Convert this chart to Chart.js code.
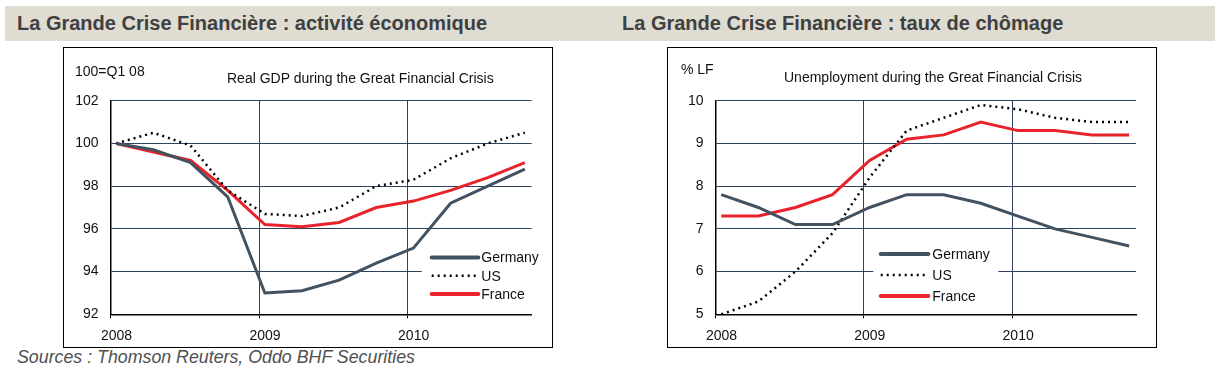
<!DOCTYPE html>
<html>
<head>
<meta charset="utf-8">
<script src="https://cdn.jsdelivr.net/npm/chart.js@4.4.1/dist/chart.umd.min.js"></script>
<style>
  body { margin: 0; width: 1221px; height: 369px; background: #fff; position: relative; overflow: hidden;
         font-family: "Liberation Sans", Arial, sans-serif; }
  .bar { position: absolute; left: 5px; top: 6px; width: 1210px; height: 35px; background: #dfdcd2; }
  .head { position: absolute; top: 6px; height: 35px; line-height: 35px; font-size: 20px; font-weight: bold; color: #404040; white-space: nowrap; }
  .box { position: absolute; top: 47px; width: 490px; height: 301px; border: 1.5px solid #000; box-sizing: border-box; }
  .wrap { position: absolute; top: 48px; width: 487px; height: 299px; }
  .note { position: absolute; font-size: 14px; line-height: 16px; color: #111; white-space: nowrap; }
  .src { position: absolute; left: 17px; top: 347px; font-size: 17.8px; line-height: 20px; font-style: italic; color: #505050; white-space: nowrap; }
</style>
</head>
<body>
<div class="bar"></div>
<div class="head" style="left:17px">La Grande Crise Financière : activité économique</div>
<div class="head" style="left:622px">La Grande Crise Financière : taux de chômage</div>

<div class="box" style="left:63px"></div>
<div class="box" style="left:667px"></div>

<div class="wrap" style="left:64px"><canvas id="gdp"></canvas></div>
<div class="wrap" style="left:669px"><canvas id="unemp"></canvas></div>

<div class="note" style="left:75px; top:63px">100=Q1 08</div>
<div class="note" style="left:227px; top:70px">Real GDP during the Great Financial Crisis</div>
<div class="note" style="left:681px; top:61px">% LF</div>
<div class="note" style="left:784px; top:69px">Unemployment during the Great Financial Crisis</div>

<div class="src">Sources : Thomson Reuters, Oddo BHF Securities</div>

<script>
// quarterly observations (mid first month of each quarter)
const quarters = ['2008-01-15', '2008-04-15', '2008-07-15', '2008-10-15',
                  '2009-01-15', '2009-04-15', '2009-07-15', '2009-10-15',
                  '2010-01-15', '2010-04-15', '2010-07-15', '2010-10-15']
const yearTicks = [2008, 2009, 2010]

// Real GDP, 100 = Q1 08
const gdpGermany = [100.0, 99.7, 99.1, 97.5, 93.0, 93.1, 93.6, 94.4, 95.1, 97.2, 98.0, 98.8]
const gdpUS      = [100.0, 100.5, 99.9, 97.8, 96.7, 96.6, 97.0, 98.0, 98.3, 99.3, 100.0, 100.5]
const gdpFrance  = [100.0, 99.6, 99.2, 97.8, 96.2, 96.1, 96.3, 97.0, 97.3, 97.8, 98.4, 99.1]

// Unemployment, % of labour force
const unempGermany = [7.8, 7.5, 7.1, 7.1, 7.5, 7.8, 7.8, 7.6, 7.3, 7.0, 6.8, 6.6]
const unempUS      = [5.0, 5.3, 6.0, 6.9, 8.2, 9.3, 9.6, 9.9, 9.8, 9.6, 9.5, 9.5]
const unempFrance  = [7.3, 7.3, 7.5, 7.8, 8.6, 9.1, 9.2, 9.5, 9.3, 9.3, 9.2, 9.2]

const seriesNames = ['Germany', 'US', 'France']

function toYear(str){
    let [y, m, d] = str.split('-').map(Number)
    return y + (m - 1 + (d - 1) / 30) / 12
}

function points(values){
    return values.map((v, i) => ({ x: toYear(quarters[i]), y: v }))
}

const insideLegend = {
    id: 'insideLegend',
    beforeDatasetsDraw(chart, args, opts){
        const ctx = chart.ctx
        ctx.save()
        ctx.fillStyle = '#fff'
        ctx.fillRect(opts.boxX, opts.boxY, opts.boxW, opts.boxH)
        chart.data.datasets.forEach((ds, i) => {
            let y = opts.y + i * opts.rowH
            ctx.beginPath()
            ctx.strokeStyle = ds.borderColor
            ctx.lineWidth = ds.borderDash ? 2.5 : 4
            ctx.lineCap = ds.borderDash ? 'butt' : 'round'
            ctx.setLineDash(ds.borderDash || [])
            ctx.moveTo(opts.x, y)
            ctx.lineTo(opts.x + opts.len, y)
            ctx.stroke()
            ctx.setLineDash([])
            ctx.fillStyle = '#111'
            ctx.font = '14px "Liberation Sans", Arial, sans-serif'
            ctx.textBaseline = 'middle'
            ctx.fillText(ds.label, opts.x + opts.len + opts.gap, y + 1)
        })
        ctx.restore()
    }
}

function makeChart(id, germany, us, france, yMin, yMax, yStep, legendOpts, rightPad){
    const tickFont = { family: '"Liberation Sans", Arial, sans-serif', size: 14 }
    const ctx = document.getElementById(id).getContext('2d')
    return new Chart(ctx, {
        type: 'line',
        data: {
            datasets: [{
                label: seriesNames[0],
                data: points(germany),
                borderColor: '#435260',
                borderWidth: 3,
                pointRadius: 0,
                tension: 0
            }, {
                label: seriesNames[1],
                data: points(us),
                borderColor: '#000',
                borderWidth: 2.5,
                borderDash: [2, 4],
                pointRadius: 0,
                tension: 0
            }, {
                label: seriesNames[2],
                data: points(france),
                borderColor: '#e8232b',
                borderWidth: 3,
                pointRadius: 0,
                tension: 0
            }]
        },
        options: {
            responsive: true,
            maintainAspectRatio: false,
            animation: false,
            layout: { padding: { top: 52.7, right: rightPad, left: 0, bottom: 0 } },
            plugins: {
                legend: { display: false },
                tooltip: { enabled: false },
                insideLegend: legendOpts
            },
            scales: {
                x: {
                    type: 'linear',
                    min: 2008,
                    max: 2010.835,
                    afterBuildTicks: scale => { scale.ticks = yearTicks.map(v => ({ value: v })) },
                    afterFit: scale => { scale.height = 32.7 },
                    ticks: {
                        callback: v => String(v),
                        color: '#111',
                        font: tickFont,
                        padding: 9,
                        labelOffset: 6,
                        maxRotation: 0
                    },
                    grid: { color: '#2e4260', lineWidth: 1, tickLength: 4, tickColor: '#000' },
                    border: { color: '#000', width: 1.5 }
                },
                y: {
                    min: yMin,
                    max: yMax,
                    afterFit: scale => { scale.width = 46.5 },
                    ticks: { stepSize: yStep, color: '#111', font: tickFont, padding: 12 },
                    grid: { color: '#2e4260', lineWidth: 1, drawTicks: false },
                    border: { color: '#000', width: 1.5 }
                }
            }
        },
        plugins: [insideLegend]
    })
}

makeChart('gdp', gdpGermany, gdpUS, gdpFrance, 92, 102, 2,
    { boxX: 357.7, boxY: 197, boxW: 115, boxH: 60, x: 367.7, y: 209.5, rowH: 18.3, len: 46.6, gap: 3 }, 19.3)

makeChart('unemp', unempGermany, unempUS, unempFrance, 5, 10, 1,
    { boxX: 204.3, boxY: 192, boxW: 125, boxH: 66, x: 211.7, y: 206, rowH: 21, len: 47.6, gap: 4 }, 20)
</script>
</body>
</html>
